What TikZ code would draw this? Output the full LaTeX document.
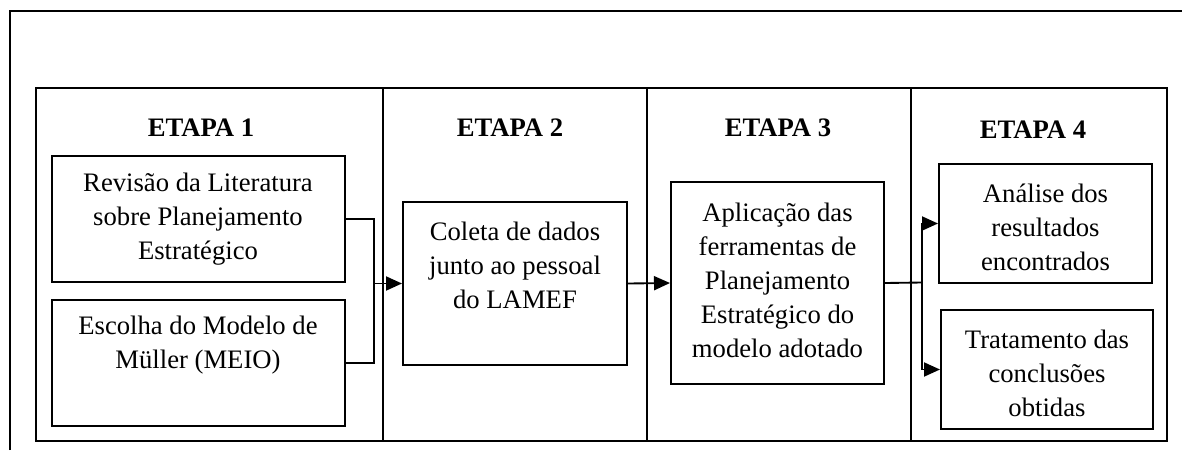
\documentclass[tikz,border=0pt]{standalone}
\usepackage{fontspec}
\setmainfont{Liberation Serif}
\usetikzlibrary{arrows.meta}
\tikzset{
  frame/.style={line width=1.5pt},
  box/.style={draw, line width=1.5pt, rectangle, inner sep=0pt},
  txt/.style={align=center, inner sep=0pt, font=\fontsize{20}{25.5}\selectfont},
  head/.style={inner sep=0pt, font=\fontsize{20}{24}\selectfont\bfseries},
  conn/.style={line width=1.4pt},
  arr/.style={line width=1.4pt, -{Triangle[length=12pt,width=10.5pt]}}
}
\begin{document}
\begin{tikzpicture}[x=0.75pt,y=-0.75pt]
\useasboundingbox (0,0) rectangle (1182,450);
% outer frame
\draw[frame] (10,450) -- (10,11) -- (1182,11);
% table
\draw[frame] (36,88) rectangle (1167,441);
\draw[frame] (383,88) -- (383,441);
\draw[frame] (647,88) -- (647,441);
\draw[frame] (911,88) -- (911,441);
% headings
\node[head] (h1) at (201,128) {ETAPA 1};
\node[head] (h2) at (510,128) {ETAPA 2};
\node[head] (h3) at (778,128) {ETAPA 3};
\node[head] (h4) at (1033,130) {ETAPA 4};
% boxes
\node[box, minimum width=219.75pt, minimum height=94.5pt] (b1a) at (198.5,219) {};
\node[box, minimum width=219.75pt, minimum height=94.5pt] (b1b) at (198.5,363) {};
\node[box, minimum width=168pt, minimum height=122.25pt] (b2) at (515,283.5) {};
\node[box, minimum width=159.75pt, minimum height=151.5pt] (b3) at (777.5,283) {};
\node[box, minimum width=159.75pt, minimum height=89.25pt] (b4a) at (1045.5,223.5) {};
\node[box, minimum width=159pt, minimum height=89.25pt] (b4b) at (1047,369.5) {};
% texts
\node[txt] (t1a) at (198,219) {Revisão da Literatura\\sobre Planejamento\\Estratégico};
\node[txt] (t1b) at (198,345.5) {Escolha do Modelo de\\Müller (MEIO)};
\node[txt] (t2) at (515,265) {Coleta de dados\\junto ao pessoal\\do LAMEF};
\node[txt] (t3) at (777.5,280) {Aplicação das\\ferramentas de\\Planejamento\\Estratégico do\\modelo adotado};
\node[txt] (t4a) at (1045.5,227) {Análise dos\\resultados\\encontrados};
\node[txt] (t4b) at (1047,373) {Tratamento das\\conclusões\\obtidas};
% connectors
\coordinate (j1) at (374,283.5);
\coordinate (j2) at (922,282.5);
\draw[conn] (b1a.east) -| (j1) |- (b1b.east);
\draw[arr] (j1) -- (b2.west);
\draw[arr] (b2.east) -- (b3.west);
\draw[conn] (b3.east) -- (j2);
\draw[arr] (j2) |- (b4a.west);
\draw[arr] (j2) |- (b4b.west);
\end{tikzpicture}
\end{document}
